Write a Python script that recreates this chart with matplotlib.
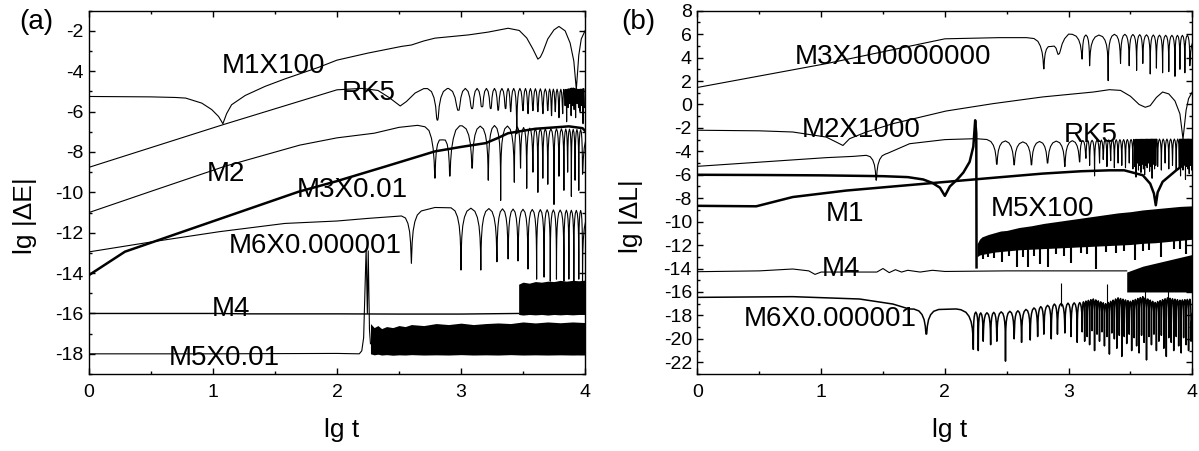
import numpy as np
import matplotlib
matplotlib.use("Agg")
import matplotlib.pyplot as plt
from matplotlib.ticker import MultipleLocator

plt.rcParams["font.family"] = ["Liberation Sans", "DejaVu Sans"]
plt.rcParams["axes.unicode_minus"] = False

# ---------------------------------------------------------------- panel (a): lg|dE|
a_m1_x = [0, 0.5, 0.7, 0.78, 0.91, 0.99, 1.045, 1.08, 1.11, 1.15, 1.26, 1.42, 1.58, 1.85,
          2.0, 2.25, 2.52, 2.6, 2.7, 2.79, 3.06, 3.22, 3.38, 3.47, 3.53, 3.58, 3.62, 3.64,
          3.66, 3.70, 3.75, 3.79, 3.84, 3.88, 3.91, 3.93, 3.95, 3.97, 4.0]
a_m1_y = [-5.25, -5.27, -5.3, -5.33, -5.58, -5.9, -6.24, -6.6, -6.1, -5.66, -5.2, -4.75, -4.38,
          -3.81, -3.45, -3.1, -2.77, -2.7, -2.5, -2.36, -2.2, -2.06, -1.87, -1.98, -2.35, -2.9,
          -3.4, -3.3, -3.05, -2.4, -1.95, -1.78, -2.0, -2.6, -3.5, -4.9, -3.2, -2.4, -2.0]

a_rk5_top_x = [0, 1.08, 2.0, 2.2, 2.33, 2.42, 2.51, 2.56, 2.63, 2.70, 3.0, 3.5, 3.85, 3.9, 3.95, 4.0]
a_rk5_top_y = [-8.76, -6.65, -4.92, -4.85, -4.95, -5.3, -5.72, -5.5, -5.08, -4.86, -4.85, -4.85,
               -4.9, -4.82, -4.9, -4.85]
a_rk5_dip_x = [2.81, 2.98, 3.09, 3.17, 3.24, 3.30, 3.36, 3.40, 3.45, 3.50, 3.54, 3.58, 3.62,
               3.66, 3.70, 3.73, 3.76, 3.79, 3.82, 3.84, 3.852, 3.864, 3.876, 3.888, 3.90,
               3.912, 3.924, 3.936, 3.948, 3.96, 3.972, 3.984, 3.996]
a_rk5_dip_y = [-6.42, -5.93, -5.85, -5.76, -5.85, -5.93, -5.85, -6.0, -7.1, -5.95, -6.1, -5.95,
               -6.0, -6.1, -5.95, -6.2, -6.0, -6.3, -6.1, -5.7, -6.5, -5.8, -5.6, -6.2, -5.7,
               -5.9, -6.3, -5.6, -5.8, -6.0, -5.7, -6.6, -5.8]

a_m2_top_x = [0, 0.5, 1.1, 1.7, 2.0, 2.3, 2.5, 2.65, 2.75, 2.85, 2.97, 3.15, 3.3, 3.45, 3.6, 3.8, 4.0]
a_m2_top_y = [-11.0, -9.95, -8.7, -7.66, -7.3, -7.07, -6.78, -6.68, -6.8, -7.4, -6.7, -6.72,
              -6.68, -6.75, -6.85, -6.85, -6.9]
a_m2_dip_x = [2.79, 2.91, 3.09, 3.22, 3.32, 3.43, 3.48, 3.53, 3.58, 3.62, 3.66, 3.70, 3.75,
              3.79, 3.83, 3.86, 3.89, 3.92, 3.95, 3.98]
a_m2_dip_y = [-9.3, -9.2, -8.8, -9.4, -10.4, -9.5, -8.8, -9.8, -9.0, -10.0, -9.3, -9.6, -10.6,
              -9.2, -9.9, -9.0, -10.2, -9.4, -9.9, -9.1]

a_m3_x = [0, 0.29, 1.69, 1.99, 2.39, 2.79, 3.0, 3.2, 3.3, 3.38, 3.6, 3.87, 3.98, 4.0]
a_m3_y = [-14.1, -12.94, -9.97, -9.46, -8.72, -7.97, -7.75, -7.56, -7.3, -7.07, -6.85, -6.73,
          -6.82, -6.95]

a_m6_top_x = [0, 0.51, 1.05, 1.58, 2.0, 2.25, 2.52, 2.79, 3.2, 3.6, 4.0]
a_m6_top_y = [-12.95, -12.45, -11.95, -11.54, -11.42, -11.29, -11.17, -10.75, -10.8, -10.85, -10.9]
a_m6_dip_x = [2.60, 3.00, 3.16, 3.29, 3.38, 3.46, 3.54, 3.61, 3.67, 3.72, 3.77, 3.83, 3.87,
              3.91, 3.95, 3.98]
a_m6_dip_y = [-13.52, -13.85, -13.85, -13.44, -13.3, -13.4, -13.8, -14.3, -14.2, -14.4, -14.3,
              -14.4, -14.3, -14.4, -14.3, -14.4]

a_m4_x = [0, 1.0, 1.3, 2.0, 2.5, 3.0, 3.465]
a_m4_y = [-16.0, -16.0, -16.02, -16.02, -16.03, -16.03, -16.0]
a_m4_band_x = [3.465, 3.5, 3.55, 3.6, 3.65, 3.7, 3.75, 3.8, 3.85, 3.9, 3.95, 4.0]
a_m4_band_lo = [-16.05, -16.08, -16.05, -16.07, -16.05, -16.08, -16.05, -16.07, -16.05, -16.07,
                -16.05, -16.05]
a_m4_band_hi = [-14.55, -14.45, -14.5, -14.42, -14.45, -14.4, -14.42, -14.36, -14.4, -14.36,
                -14.38, -14.35]

a_m5_x = [0, 1.0, 2.0, 2.18, 2.2, 2.215, 2.225, 2.235, 2.245, 2.252, 2.262, 2.27]
a_m5_y = [-18.0, -18.0, -17.98, -18.0, -17.85, -17.2, -15.0, -12.8, -16.0, -12.9, -16.8, -17.5]
a_m5_band_x = [2.27, 2.3, 2.33, 2.36, 2.4, 2.45, 2.5, 2.55, 2.6, 2.7, 2.8, 2.9, 3.0, 3.1, 3.2,
               3.3, 3.4, 3.5, 3.6, 3.7, 3.8, 3.9, 4.0]
a_m5_band_hi = [-16.5, -16.7, -16.6, -16.75, -16.65, -16.7, -16.6, -16.65, -16.55, -16.6, -16.5,
                -16.55, -16.48, -16.55, -16.5, -16.47, -16.5, -16.42, -16.47, -16.42, -16.46,
                -16.42, -16.45]
a_m5_band_lo = [-18.0, -18.05, -18.02, -18.06, -18.04, -18.07, -18.05, -18.06, -18.04, -18.06,
                -18.05, -18.06, -18.04, -18.06, -18.05, -18.06, -18.04, -18.06, -18.05, -18.06,
                -18.05, -18.06, -18.05]

a_labels = ["M1X100", "RK5", "M2", "M3X0.01", "M6X0.000001", "M4", "M5X0.01"]
a_label_x = [1.487, 2.26, 1.107, 2.127, 1.825, 1.147, 1.091]
a_label_y = [-4.09, -5.43, -9.44, -10.23, -13.0, -16.12, -18.55]

# ---------------------------------------------------------------- panel (b): lg|dL|
b_m3_top_x = [0, 1.04, 2.0, 2.44, 2.66, 2.74, 2.86, 3.0, 3.2, 3.4, 3.6, 3.8, 4.0]
b_m3_top_y = [1.45, 3.48, 5.6, 5.7, 5.7, 5.6, 4.95, 6.0, 5.9, 6.0, 5.95, 5.9, 5.9]
b_m3_dip_x = [2.80, 2.92, 3.11, 3.17, 3.32, 3.42, 3.49, 3.55, 3.60, 3.66, 3.71, 3.76, 3.81,
              3.86, 3.90, 3.94, 3.98]
b_m3_dip_y = [3.03, 4.3, 3.88, 3.3, 2.03, 3.5, 3.3, 2.9, 3.5, 2.6, 3.1, 2.7, 2.8, 2.4, 3.0, 2.7, 3.3]

b_m2_x = [0, 0.5, 0.77, 1.04, 1.12, 1.176, 1.23, 1.365, 1.58, 2.01, 2.39, 2.79, 3.2, 3.33,
          3.42, 3.5, 3.57, 3.62, 3.66, 3.71, 3.76, 3.81, 3.86, 3.9, 3.925, 3.95, 3.97, 4.0]
b_m2_y = [-2.2, -2.25, -2.35, -2.78, -3.2, -3.5, -2.92, -2.35, -1.64, -0.56, 0.07, 0.64, 1.06,
          1.26, 1.2, 0.7, 0.0, -0.24, -0.1, 0.6, 1.06, 0.9, 0.3, -0.8, -2.95, -0.5, 0.5, 1.06]

b_rk5_top_x = [0, 1.04, 1.26, 1.53, 1.715, 2.0, 2.25, 2.35, 2.6, 3.0, 3.4, 3.7, 4.0]
b_rk5_top_y = [-5.28, -4.54, -4.43, -4.2, -3.35, -3.0, -2.92, -3.0, -3.2, -3.1, -3.0, -2.95, -2.95]
b_rk5_dip_x = [1.445, 2.42, 2.56, 2.70, 2.83, 2.97, 3.09, 3.14, 3.17, 3.21, 3.25, 3.28, 3.31,
               3.34, 3.37, 3.40, 3.43, 3.46, 3.49, 3.52,
               3.535, 3.545, 3.555, 3.565, 3.575, 3.585, 3.595, 3.605, 3.615, 3.625, 3.635,
               3.645, 3.655, 3.665, 3.675, 3.685, 3.695, 3.705,
               3.72, 3.75, 3.78, 3.81, 3.84, 3.87,
               3.895, 3.905, 3.915, 3.925, 3.935, 3.945, 3.955, 3.965, 3.975, 3.985, 3.995]
b_rk5_dip_y = [-6.47, -5.1, -5.15, -5.15, -5.0, -5.3, -4.9, -4.6, -5.2, -6.1, -5.0, -4.7, -5.3,
               -4.8, -5.4, -5.0, -5.2, -5.4, -5.0, -5.5,
               -5.3, -6.2, -5.0, -5.6, -5.2, -5.8, -5.1, -5.5, -6.0, -5.2, -5.4, -5.0, -5.7,
               -5.3, -6.3, -5.1, -5.5, -5.2,
               -5.3, -5.6, -5.0, -5.5, -5.2, -5.6,
               -5.4, -6.1, -5.2, -5.6, -5.0, -6.4, -5.3, -5.5, -5.9, -5.2, -5.6]

b_m5_x = [0, 0.5, 1.0, 1.5, 1.7, 1.825, 1.9, 1.96, 2.0, 2.04, 2.1, 2.15, 2.2, 2.23, 2.245,
          2.254, 2.256]
b_m5_y = [-6.0, -6.02, -6.05, -6.12, -6.2, -6.4, -6.7, -7.1, -7.8, -7.0, -6.4, -5.8, -4.9,
          -3.6, -1.35, -2.5, -13.9]
b_m5_band_x = [2.26, 2.28, 2.3, 2.35, 2.4, 2.45, 2.5, 2.6, 2.7, 2.8, 2.9, 3.0, 3.1, 3.2, 3.3,
               3.4, 3.5, 3.6, 3.7, 3.8, 3.9, 4.0]
b_m5_band_hi = [-11.9, -11.5, -11.3, -11.1, -10.95, -10.8, -10.75, -10.5, -10.35, -10.15, -10.0,
                -9.85, -9.7, -9.55, -9.4, -9.25, -9.15, -9.0, -8.9, -8.8, -8.7, -8.65]
b_m5_band_lo = [-13.0, -12.85, -12.8, -12.7, -12.6, -12.55, -12.5, -12.4, -12.35, -12.3, -12.25,
                -12.2, -12.15, -12.1, -12.05, -12.0, -11.95, -11.85, -11.8, -11.7, -11.6, -11.5]
b_m5_spike_x = [2.31, 2.35, 2.4, 2.46, 2.52, 2.58, 2.63, 2.67, 2.72, 2.77, 2.83, 2.9, 2.96,
                3.02, 3.1, 3.15, 3.22, 3.3, 3.38, 3.45, 3.535, 3.6, 3.65, 3.75, 3.85, 3.9, 3.95]
b_m5_spike_y = [-13.2, -13.0, -13.1, -13.4, -12.9, -13.9, -13.0, -13.9, -12.9, -13.6, -13.9,
                -12.8, -12.9, -13.5, -12.7, -12.8, -14.0, -12.6, -12.7, -12.5, -13.3, -12.5,
                -12.4, -13.0, -12.3, -12.3, -12.8]

b_m1_x = [0, 0.475, 0.77, 1.2, 1.96, 2.4, 2.79, 3.1, 3.33, 3.45, 3.6, 3.66, 3.69, 3.705, 3.72,
          3.76, 3.87, 4.0]
b_m1_y = [-8.65, -8.69, -7.9, -7.35, -6.65, -6.25, -5.9, -5.7, -5.62, -5.62, -6.04, -6.76,
          -7.6, -8.6, -7.5, -6.6, -5.62, -4.6]

b_m4_x = [0, 0.5, 0.77, 0.9, 0.95, 1.0, 1.45, 1.5, 1.55, 1.6, 1.65, 1.7, 1.8, 1.9, 2.0, 2.5,
          3.0, 3.47]
b_m4_y = [-14.27, -14.2, -14.04, -14.2, -14.5, -14.3, -14.3, -14.0, -14.35, -14.1, -14.3,
          -14.15, -14.3, -14.15, -14.25, -14.2, -14.2, -14.2]
b_m4_band_x = [3.47, 3.6, 3.8, 4.0]
b_m4_band_lo = [-16.0, -16.0, -16.0, -16.0]
b_m4_band_hi = [-14.3, -13.8, -13.3, -12.8]

b_m6_top_x = [0, 0.77, 1.31, 1.58, 1.71, 1.93, 2.09, 2.3, 2.6, 2.9, 3.1, 3.2, 3.3, 3.4, 3.5,
              3.6, 3.7, 3.8, 3.9, 4.0]
b_m6_top_y = [-16.46, -16.4, -16.6, -17.03, -17.45, -17.5, -17.45, -17.8, -17.6, -17.0, -16.9,
              -16.6, -17.0, -16.5, -16.8, -16.4, -16.9, -16.5, -16.7, -16.6]
b_m6_dip_x = [1.85, 2.23, 2.27, 2.31, 2.37, 2.42, 2.49, 2.56, 2.62, 2.69, 2.75, 2.80, 2.86,
              2.91, 2.97, 3.02, 3.07,
              3.11, 3.13, 3.15, 3.17, 3.19, 3.21, 3.23, 3.25, 3.27, 3.29, 3.31, 3.33, 3.35,
              3.37, 3.39, 3.41, 3.43, 3.45, 3.47, 3.49, 3.51, 3.53, 3.55, 3.57, 3.59, 3.61,
              3.63, 3.65, 3.67, 3.69, 3.71, 3.73, 3.75, 3.77, 3.79, 3.81, 3.83, 3.85, 3.87,
              3.89, 3.91, 3.93, 3.95, 3.97, 3.99]
b_m6_dip_y = [-19.6, -20.9, -21.0, -20.2, -20.5, -20.2, -21.9, -20.0, -20.3, -20.1, -19.8,
              -19.6, -20.0, -19.6, -19.5, -19.8, -20.3,
              -19.4, -20.2, -19.8, -20.5, -19.3, -21.0, -19.6, -20.2, -19.4, -20.6, -19.8,
              -21.3, -19.5, -20.0, -20.8, -19.7, -21.5, -19.8, -20.4, -19.6, -21.0, -19.9,
              -20.6, -21.2, -19.7, -20.3, -21.8, -19.8, -20.5, -19.6, -21.0, -20.2, -19.7,
              -20.8, -21.5, -19.9, -20.3, -21.0, -19.8, -20.6, -21.2, -19.9, -20.5, -21.0,
              -20.2]
b_m6_spike_x = [2.94, 3.31, 3.62, 3.80]
b_m6_spike_lo = [-17.2, -17.0, -16.9, -16.9]
b_m6_spike_hi = [-15.2, -15.3, -15.8, -15.5]

b_labels = ["M3X100000000", "M2X1000", "RK5", "M1", "M5X100", "M4", "M6X0.000001"]
b_label_x = [1.581, 1.324, 3.176, 1.19, 2.787, 1.162, 1.075]
b_label_y = [3.45, -2.78, -3.2, -9.92, -9.49, -14.61, -18.88]

# shape of a resonance notch in log scale: fraction of half-spacing -> drop below the arch top
NOTCH_F = [1.0, 0.6, 0.35, 0.18, 0.08, 0.03]
NOTCH_DROP = [0.0, 0.15, 0.45, 0.88, 1.45, 2.1]


def notched(top_x, top_y, dip_x, dip_y, wmax):
    """Polyline that follows the arch tops and drops into each listed minimum."""
    top_x = np.asarray(top_x, float)
    top_y = np.asarray(top_y, float)
    xs, ys, spans = [], [], []
    n = len(dip_x)
    for i in range(n):
        xd, yd = dip_x[i], dip_y[i]
        hl = wmax if i == 0 else min(wmax, (xd - dip_x[i - 1]) / 2)
        hr = wmax if i == n - 1 else min(wmax, (dip_x[i + 1] - xd) / 2)
        spans.append((xd - hl, xd + hr))
        depth = np.interp(xd, top_x, top_y) - yd
        for f, d in zip(NOTCH_F, NOTCH_DROP):
            x = xd - f * hl
            xs.append(x)
            ys.append(np.interp(x, top_x, top_y) - min(d, depth))
        xs.append(xd)
        ys.append(yd)
        for f, d in zip(NOTCH_F[::-1], NOTCH_DROP[::-1]):
            x = xd + f * hr
            xs.append(x)
            ys.append(np.interp(x, top_x, top_y) - min(d, depth))
    for x, y in zip(top_x, top_y):
        if not any(a < x < b for a, b in spans):
            xs.append(x)
            ys.append(y)
    order = np.argsort(xs, kind="stable")
    return np.asarray(xs)[order], np.asarray(ys)[order]


THIN = 0.8
THICK = 1.8
LABEL_FS = 20

fig = plt.figure(figsize=(11.99, 4.51), dpi=100)
ax_a = fig.add_axes([0.0742, 0.1707, 0.4137, 0.8056])
ax_b = fig.add_axes([0.5817, 0.1707, 0.4127, 0.8056])

# ---- panel (a)
ax_a.plot(a_m1_x, a_m1_y, color="k", lw=THIN)
ax_a.plot(*notched(a_rk5_top_x, a_rk5_top_y, a_rk5_dip_x, a_rk5_dip_y, 0.08), color="k", lw=THIN)
ax_a.plot(*notched(a_m2_top_x, a_m2_top_y, a_m2_dip_x, a_m2_dip_y, 0.08), color="k", lw=THIN)
ax_a.plot(a_m3_x, a_m3_y, color="k", lw=THICK)
ax_a.plot(*notched(a_m6_top_x, a_m6_top_y, a_m6_dip_x, a_m6_dip_y, 0.08), color="k", lw=THIN)
ax_a.plot(a_m4_x, a_m4_y, color="k", lw=1.0)
ax_a.fill_between(a_m4_band_x, a_m4_band_lo, a_m4_band_hi, color="k", lw=0)
ax_a.plot(a_m5_x, a_m5_y, color="k", lw=THIN)
ax_a.fill_between(a_m5_band_x, a_m5_band_lo, a_m5_band_hi, color="k", lw=0)
for s, x, y in zip(a_labels, a_label_x, a_label_y):
    ax_a.text(x, y, s, fontsize=LABEL_FS, ha="center", va="baseline")

# ---- panel (b)
ax_b.plot(*notched(b_m3_top_x, b_m3_top_y, b_m3_dip_x, b_m3_dip_y, 0.08), color="k", lw=THIN)
ax_b.plot(b_m2_x, b_m2_y, color="k", lw=THIN)
ax_b.plot(*notched(b_rk5_top_x, b_rk5_top_y, b_rk5_dip_x, b_rk5_dip_y, 0.08), color="k", lw=THIN)
ax_b.plot(b_m5_x, b_m5_y, color="k", lw=THICK)
ax_b.fill_between(b_m5_band_x, b_m5_band_lo, b_m5_band_hi, color="k", lw=0)
ax_b.vlines(b_m5_spike_x, b_m5_spike_y, -11.6, color="k", lw=1.5)
ax_b.plot(b_m1_x, b_m1_y, color="k", lw=THICK)
ax_b.plot(b_m4_x, b_m4_y, color="k", lw=THIN)
ax_b.fill_between(b_m4_band_x, b_m4_band_lo, b_m4_band_hi, color="k", lw=0)
ax_b.plot(*notched(b_m6_top_x, b_m6_top_y, b_m6_dip_x, b_m6_dip_y, 0.1), color="k", lw=1.1)
ax_b.vlines(b_m6_spike_x, b_m6_spike_lo, b_m6_spike_hi, color="k", lw=THIN)
for s, x, y in zip(b_labels, b_label_x, b_label_y):
    ax_b.text(x, y, s, fontsize=LABEL_FS, ha="center", va="baseline")

# ---- axes styling
for ax, ylim, ylab in ((ax_a, (-19, -1), "lg |\u0394E|"), (ax_b, (-23, 8), "lg |\u0394L|")):
    ax.set_xlim(0, 4)
    ax.set_ylim(*ylim)
    ax.xaxis.set_major_locator(MultipleLocator(1))
    ax.xaxis.set_minor_locator(MultipleLocator(0.5))
    ax.yaxis.set_major_locator(MultipleLocator(2))
    ax.yaxis.set_minor_locator(MultipleLocator(1))
    ax.tick_params(which="both", direction="in", top=True, right=True, width=1.0, labelsize=14)
    ax.tick_params(which="major", length=4)
    ax.tick_params(which="minor", length=2.5)
    ax.tick_params(axis="x", pad=7)
    ax.tick_params(axis="y", pad=4)
    for sp in ax.spines.values():
        sp.set_linewidth(1.0)
    ax.set_xlabel("lg t", fontsize=19)
    ax.set_ylabel(ylab, fontsize=19)
    ax.xaxis.set_label_coords(0.51, -0.12)

ax_a.set_yticks(np.arange(-18, -1, 2))
ax_b.set_yticks(np.arange(-22, 9, 2))
ax_a.yaxis.set_label_coords(-0.105, 0.435)
ax_b.yaxis.set_label_coords(-0.11, 0.435)

fig.text(36 / 1199, 1 - 29 / 451, "(a)", fontsize=20, ha="center", va="baseline")
fig.text(638 / 1199, 1 - 29 / 451, "(b)", fontsize=20, ha="center", va="baseline")

fig.savefig("out.png", dpi=100)
